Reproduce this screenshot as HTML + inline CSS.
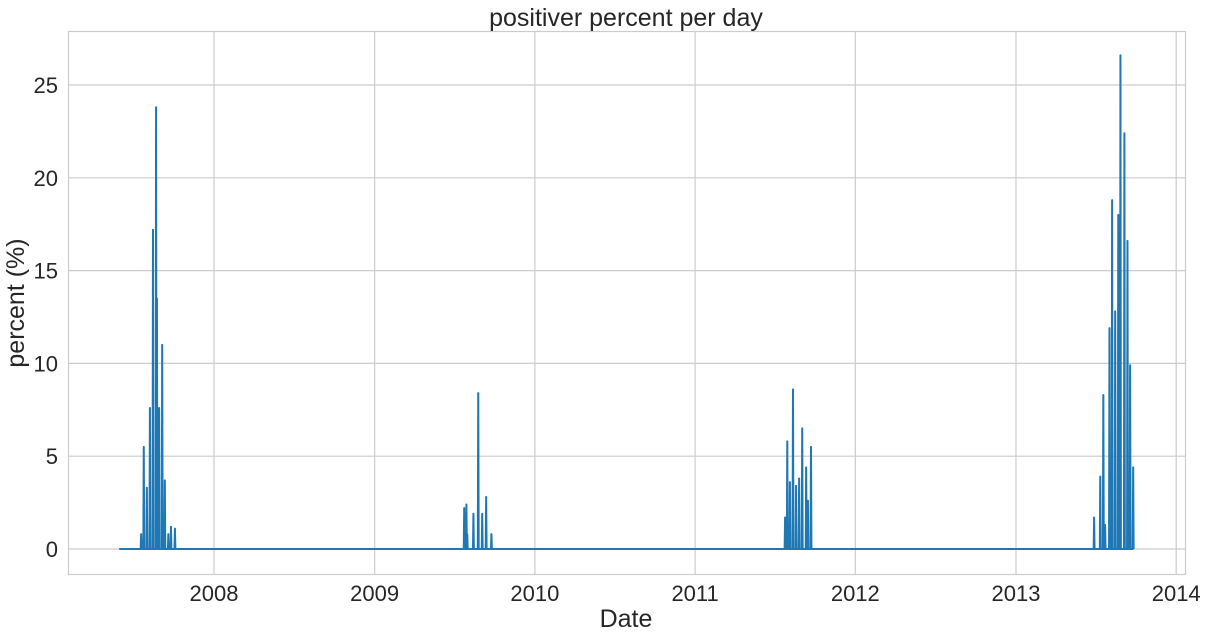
<!DOCTYPE html>
<html><head><meta charset="utf-8"><style>
body{margin:0;background:#fff;}
svg{display:block;font-family:"Liberation Sans",Arial,sans-serif;}
</style></head><body>
<svg id="chart" width="1207" height="638" viewBox="0 0 1207 638">
<rect width="1207" height="638" fill="#fff"/>
<g id="grid"></g>
<rect x="68.5" y="31.5" width="1117" height="543" fill="none" stroke="#cccccc" stroke-width="1.2"/>
<g id="yticks"></g>
<g id="xticks"></g>
<path id="line" fill="none" stroke="#1f77b4" stroke-width="2" stroke-linejoin="round"/>
<text x="626" y="26" text-anchor="middle" font-size="25" fill="#262626">positiver percent per day</text>
<text x="626" y="627" text-anchor="middle" font-size="25" fill="#262626">Date</text>
<text transform="translate(24,303) rotate(-90)" text-anchor="middle" font-size="25" fill="#262626">percent (%)</text>
</svg>
<script>
const startDate = "2007-05-30";
const endDate = "2013-09-26";
const spikeDates = ["2007-07-19","2007-07-25","2007-08-01","2007-08-08","2007-08-15","2007-08-22","2007-08-24","2007-08-29","2007-09-05","2007-09-11","2007-09-19","2007-09-25","2007-10-04",
"2009-07-24","2009-07-29","2009-07-31","2009-08-14","2009-08-25","2009-09-03","2009-09-12","2009-09-24",
"2011-07-25","2011-07-30","2011-08-05","2011-08-12","2011-08-19","2011-08-26","2011-09-02","2011-09-11","2011-09-15","2011-09-22",
"2013-06-28","2013-07-12","2013-07-19","2013-07-23","2013-08-02","2013-08-08","2013-08-15","2013-08-22","2013-08-27","2013-09-05","2013-09-12","2013-09-18","2013-09-25"];
const spikeValues = [0.8,5.5,3.3,7.6,17.2,23.8,13.5,7.6,11.0,3.7,0.8,1.2,1.1,
2.2,2.4,0.8,1.9,8.4,1.9,2.8,0.8,
1.7,5.8,3.6,8.6,3.4,3.8,6.5,4.4,2.6,5.5,
1.7,3.9,8.3,1.3,11.9,18.8,12.8,18.0,26.6,22.4,16.6,9.9,4.4];
const yTicks = [0,5,10,15,20,25];
const xTickYears = [2008,2009,2010,2011,2012,2013,2014];

const NS="http://www.w3.org/2000/svg";
const DAY=86400000;
const t0=Date.UTC(2008,0,1);
const pxPerDay=160.33/365.25;
function xs(ms){return 214+(ms-t0)/DAY*pxPerDay;}
function ys(v){return 549-v*18.56;}
function parse(s){const p=s.split("-");return Date.UTC(+p[0],+p[1]-1,+p[2]);}

const grid=document.getElementById("grid");
const yt=document.getElementById("yticks");
yTicks.forEach(v=>{
  const l=document.createElementNS(NS,"line");
  
  
  l.setAttribute("x1",68);l.setAttribute("x2",1185);l.setAttribute("y1",ys(v));l.setAttribute("y2",ys(v));
  l.setAttribute("stroke","#cccccc");l.setAttribute("stroke-width","1.2");
  grid.appendChild(l);
  const t=document.createElementNS(NS,"text");
  
  
  t.setAttribute("x",58);t.setAttribute("y",ys(v)+8);t.setAttribute("text-anchor","end");
  t.setAttribute("font-size","22");t.setAttribute("fill","#262626");t.textContent=v;
  yt.appendChild(t);
});
const xt=document.getElementById("xticks");
xTickYears.forEach(yr=>{
  const x=xs(Date.UTC(yr,0,1));
  const l=document.createElementNS(NS,"line");
  
  
  l.setAttribute("x1",x);l.setAttribute("x2",x);l.setAttribute("y1",31);l.setAttribute("y2",574);
  l.setAttribute("stroke","#cccccc");l.setAttribute("stroke-width","1.2");
  grid.appendChild(l);
  const t=document.createElementNS(NS,"text");
  
  
  t.setAttribute("x",x);t.setAttribute("y",601);t.setAttribute("text-anchor","middle");
  t.setAttribute("font-size","22");t.setAttribute("fill","#262626");t.textContent=yr;
  xt.appendChild(t);
});
const map={};
spikeDates.forEach((d,i)=>{map[Math.round(parse(d)/DAY)]=spikeValues[i];});
const s=Math.round(parse(startDate)/DAY), e=Math.round(parse(endDate)/DAY);
let d="";
for(let k=s;k<=e;k++){
  const v=map[k]||0;
  d+=(k===s?"M":"L")+xs(k*DAY).toFixed(2)+","+ys(v).toFixed(2);
}
document.getElementById("line").setAttribute("d",d);
</script>
</body></html>
